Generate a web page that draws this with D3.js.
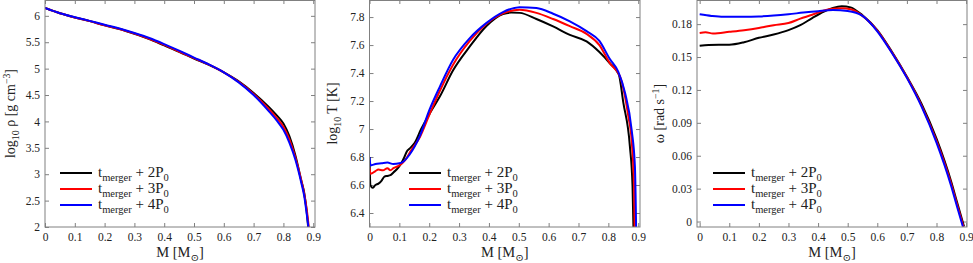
<!DOCTYPE html>
<html>
<head>
<meta charset="utf-8">
<script src="https://cdn.jsdelivr.net/npm/d3@7"></script>
<style>
    body { margin: 0; background: #fff; }
    svg { display: block; font-family: "Liberation Serif", "DejaVu Serif", serif; }
</style>
</head>
<body>
<svg id="fig" width="973" height="263"></svg>
<script>
const seriesLabels = ['2', '3', '4']
const seriesColors = ['#000000', '#ff0000', '#0000ff']

// log10 rho
const rhoM2 = [0, 0.05, 0.1, 0.15, 0.2, 0.25, 0.3, 0.35, 0.4, 0.45, 0.5, 0.55, 0.6, 0.65, 0.7, 0.75, 0.78, 0.8, 0.82, 0.84, 0.86, 0.87, 0.878, 0.883]
const rho2 = [6.15, 6.05, 5.97, 5.90, 5.82, 5.75, 5.66, 5.56, 5.44, 5.32, 5.19, 5.07, 4.93, 4.76, 4.54, 4.28, 4.10, 3.96, 3.72, 3.36, 2.88, 2.64, 2.30, 2.0]
const rhoM3 = [0, 0.05, 0.1, 0.15, 0.2, 0.25, 0.3, 0.35, 0.4, 0.45, 0.5, 0.55, 0.6, 0.65, 0.7, 0.75, 0.78, 0.8, 0.82, 0.84, 0.86, 0.87, 0.879, 0.885]
const rho3 = [6.15, 6.05, 5.97, 5.90, 5.82, 5.75, 5.665, 5.565, 5.45, 5.325, 5.20, 5.075, 4.93, 4.75, 4.52, 4.24, 4.05, 3.90, 3.66, 3.32, 2.88, 2.62, 2.30, 2.0]
const rhoM4 = [0, 0.05, 0.1, 0.15, 0.2, 0.25, 0.3, 0.35, 0.4, 0.45, 0.5, 0.55, 0.6, 0.65, 0.7, 0.75, 0.78, 0.8, 0.82, 0.84, 0.86, 0.87, 0.878, 0.884]
const rho4 = [6.15, 6.05, 5.975, 5.905, 5.83, 5.76, 5.675, 5.58, 5.465, 5.34, 5.21, 5.08, 4.93, 4.74, 4.50, 4.20, 4.00, 3.84, 3.60, 3.28, 2.84, 2.58, 2.26, 2.0]

// log10 T
const tempM2 = [0, 0.003, 0.01, 0.02, 0.03, 0.04, 0.05, 0.06, 0.07, 0.08, 0.095, 0.105, 0.117, 0.125, 0.134, 0.151, 0.173, 0.207, 0.235, 0.28, 0.336, 0.391, 0.447, 0.475, 0.503, 0.559, 0.615, 0.671, 0.727, 0.77, 0.805, 0.835, 0.85, 0.872, 0.881, 0.884]
const temp2 = [6.80, 6.60, 6.58, 6.60, 6.61, 6.63, 6.66, 6.665, 6.67, 6.69, 6.72, 6.75, 6.80, 6.84, 6.86, 6.90, 7.00, 7.13, 7.23, 7.42, 7.59, 7.735, 7.822, 7.832, 7.83, 7.786, 7.733, 7.673, 7.626, 7.55, 7.47, 7.39, 7.19, 6.88, 6.59, 6.3]
const tempM3 = [0, 0.004, 0.02, 0.03, 0.045, 0.06, 0.07, 0.08, 0.1, 0.12, 0.14, 0.168, 0.2, 0.235, 0.28, 0.336, 0.391, 0.447, 0.503, 0.559, 0.615, 0.671, 0.727, 0.77, 0.805, 0.839, 0.867, 0.878, 0.886, 0.888]
const temp3 = [6.72, 6.68, 6.70, 6.71, 6.705, 6.72, 6.705, 6.72, 6.74, 6.78, 6.85, 6.94, 7.10, 7.27, 7.46, 7.63, 7.75, 7.826, 7.852, 7.83, 7.786, 7.735, 7.68, 7.60, 7.47, 7.376, 7.09, 6.92, 6.59, 6.3]
const tempM4 = [0, 0.004, 0.02, 0.04, 0.06, 0.08, 0.1, 0.115, 0.134, 0.168, 0.201, 0.235, 0.28, 0.336, 0.391, 0.447, 0.503, 0.559, 0.615, 0.671, 0.727, 0.77, 0.805, 0.833, 0.856, 0.878, 0.889, 0.893]
const temp4 = [6.80, 6.74, 6.75, 6.755, 6.76, 6.75, 6.755, 6.77, 6.816, 6.947, 7.138, 7.30, 7.495, 7.65, 7.757, 7.836, 7.871, 7.864, 7.824, 7.77, 7.70, 7.63, 7.50, 7.41, 7.257, 6.995, 6.73, 6.3]

// omega
const omegaM2 = [0, 0.03, 0.1, 0.15, 0.2, 0.25, 0.3, 0.34, 0.38, 0.42, 0.45, 0.48, 0.51, 0.55, 0.6, 0.65, 0.7, 0.75, 0.8, 0.85, 0.87, 0.893]
const omega2 = [0.1603, 0.161, 0.1612, 0.1635, 0.1675, 0.1705, 0.1745, 0.179, 0.1855, 0.1915, 0.1948, 0.1964, 0.1953, 0.188, 0.1745, 0.1545, 0.132, 0.107, 0.0755, 0.036, 0.017, -0.0045]
const omegaM3 = [0, 0.02, 0.045, 0.1, 0.15, 0.2, 0.25, 0.3, 0.34, 0.38, 0.42, 0.45, 0.48, 0.51, 0.55, 0.6, 0.65, 0.7, 0.75, 0.8, 0.85, 0.87, 0.891]
const omega3 = [0.172, 0.1725, 0.1715, 0.173, 0.1745, 0.1765, 0.179, 0.181, 0.185, 0.1885, 0.1925, 0.194, 0.1945, 0.1935, 0.1875, 0.174, 0.154, 0.1315, 0.1055, 0.0735, 0.034, 0.015, -0.0045]
const omegaM4 = [0, 0.04, 0.08, 0.15, 0.2, 0.25, 0.3, 0.35, 0.4, 0.45, 0.5, 0.55, 0.6, 0.65, 0.7, 0.75, 0.8, 0.85, 0.87, 0.889]
const omega4 = [0.189, 0.1875, 0.1867, 0.1867, 0.187, 0.1878, 0.189, 0.1905, 0.1918, 0.1928, 0.192, 0.1875, 0.1735, 0.1535, 0.131, 0.1045, 0.072, 0.032, 0.013, -0.0045]

const massTicks = [0, 0.1, 0.2, 0.3, 0.4, 0.5, 0.6, 0.7, 0.8, 0.9]
const rhoTicks = [2, 2.5, 3, 3.5, 4, 4.5, 5, 5.5, 6]
const tempTicks = [6.4, 6.6, 6.8, 7, 7.2, 7.4, 7.6, 7.8]
const omegaTicks = [0, 0.03, 0.06, 0.09, 0.12, 0.15, 0.18]

const svg = d3.select('#fig')
const frameColor = '#808080'

function richText(sel, parts, size) {
    // parts: [text, 'sub' | 'sup' | undefined]
    let shift = 0
    parts.forEach(([t, kind]) => {
        const target = kind === 'sub' ? size * 0.28 : kind === 'sup' ? -size * 0.38 : 0
        sel.append('tspan')
            .attr('dy', target - shift)
            .attr('font-size', kind ? size * 0.7 : size)
            .text(t)
        shift = target
    })
}

function drawPanel(p) {
    const x = d3.scaleLinear().domain(p.xDomain).range([p.left, p.right])
    const y = d3.scaleLinear().domain(p.yDomain).range([p.bottom, p.top])

    const g = svg.append('g')

    const clipId = 'clip' + p.id
    svg.append('clipPath').attr('id', clipId)
        .append('rect')
        .attr('x', p.left).attr('y', p.top)
        .attr('width', p.right - p.left).attr('height', p.bottom - p.top)

    const axes = [
        [d3.axisBottom(x).tickValues(massTicks).tickSize(-4).tickPadding(6).tickFormat(d3.format('~g')), `translate(0,${p.bottom})`],
        [d3.axisTop(x).tickValues(massTicks).tickSize(-4).tickFormat(''), `translate(0,${p.top})`],
        [d3.axisLeft(y).tickValues(p.yTicks).tickSize(-4).tickPadding(5).tickFormat(d3.format('~g')), `translate(${p.left},0)`],
        [d3.axisRight(y).tickValues(p.yTicks).tickSize(-4).tickFormat(''), `translate(${p.right},0)`]
    ]
    axes.forEach(([axis, tr]) => {
        const a = g.append('g').attr('transform', tr).call(axis)
            .attr('font-family', null).attr('font-size', null)
        a.select('.domain').remove()
        a.selectAll('line').attr('stroke', frameColor)
        a.selectAll('text').attr('font-size', 11.5).attr('fill', '#222')
    })

    const line = d3.line()
        .x(d => x(d[0]))
        .y(d => y(d[1]))
        .curve(d3.curveMonotoneX)

    g.append('g').attr('clip-path', `url(#${clipId})`)
        .selectAll('path')
        .data(p.series)
        .join('path')
        .attr('fill', 'none')
        .attr('stroke', (d, i) => seriesColors[i])
        .attr('stroke-width', 2)
        .attr('d', d => line(d3.zip(d[0], d[1])))

    g.append('rect')
        .attr('x', p.left).attr('y', p.top + 0.5)
        .attr('width', p.right - p.left).attr('height', p.bottom - p.top - 0.5)
        .attr('fill', 'none').attr('stroke', frameColor)

    // x title
    const xt = g.append('text')
        .attr('x', (p.left + p.right) / 2).attr('y', 257)
        .attr('text-anchor', 'middle').attr('fill', '#222')
    richText(xt, [['M [M'], ['⊙', 'sub'], [']']], 14.5)

    // y title
    const yt = g.append('text')
        .attr('transform', `translate(${p.yTitleX},${(p.top + p.bottom) / 2}) rotate(-90)`)
        .attr('text-anchor', 'middle').attr('fill', '#222')
    richText(yt, p.yTitle, 14)

    // legend
    const leg = g.append('g')
    seriesLabels.forEach((lab, i) => {
        const ly = 173 + i * 16
        leg.append('line')
            .attr('x1', p.legendX).attr('x2', p.legendX + 32)
            .attr('y1', ly).attr('y2', ly)
            .attr('stroke', seriesColors[i]).attr('stroke-width', 2)
        const t = leg.append('text')
            .attr('x', p.legendX + 38).attr('y', ly + 4).attr('fill', '#222')
        richText(t, [['t'], ['merger', 'sub'], [' + ' + lab + 'P'], ['0', 'sub']], 15)
    })
}

drawPanel({
    id: 1, left: 45, right: 315, top: 0, bottom: 227,
    xDomain: [0, 0.906], yDomain: [2, 6.3], yTicks: rhoTicks,
    yTitleX: 15, legendX: 60,
    yTitle: [['log'], ['10', 'sub'], [' ρ [g cm'], ['−3', 'sup'], [']']],
    series: [[rhoM2, rho2], [rhoM3, rho3], [rhoM4, rho4]]
})

drawPanel({
    id: 2, left: 369.5, right: 640, top: 0, bottom: 227,
    xDomain: [0, 0.906], yDomain: [6.3, 7.922], yTicks: tempTicks,
    yTitleX: 337, legendX: 409,
    yTitle: [['log'], ['10', 'sub'], [' T [K]']],
    series: [[tempM2, temp2], [tempM3, temp3], [tempM4, temp4]]
})

drawPanel({
    id: 3, left: 697, right: 967, top: 0, bottom: 227,
    xDomain: [-0.009, 0.903], yDomain: [-0.005, 0.202], yTicks: omegaTicks,
    yTitleX: 664, legendX: 713,
    yTitle: [['ω [rad s'], ['−1', 'sup'], [']']],
    series: [[omegaM2, omega2], [omegaM3, omega3], [omegaM4, omega4]]
})
</script>
</body>
</html>
